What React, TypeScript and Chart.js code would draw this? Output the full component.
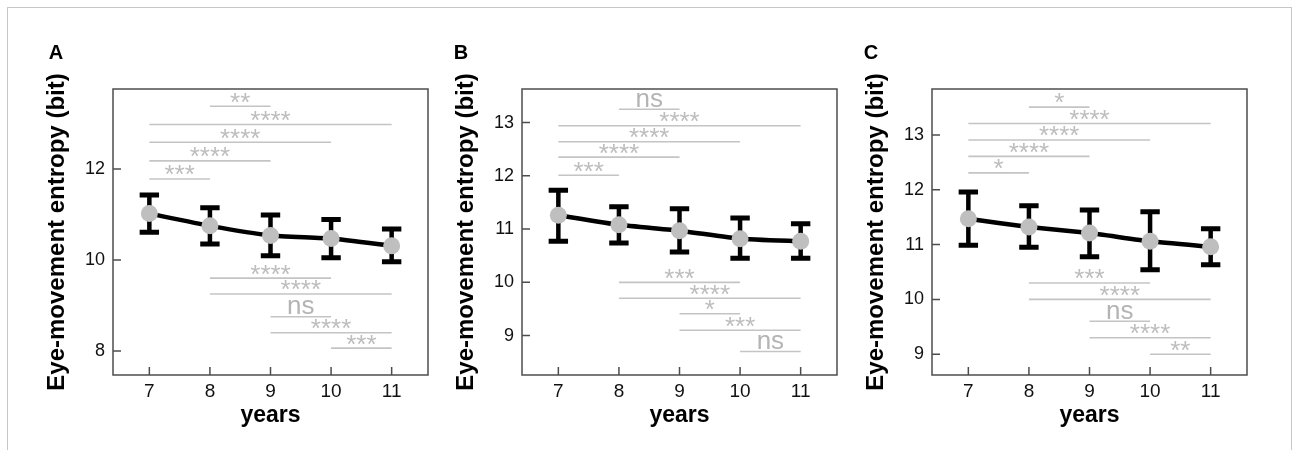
import React, { useEffect, useRef } from "react";
import { Chart, registerables } from "chart.js";

Chart.register(...registerables);

const FONT = "'Liberation Sans', Arial, Helvetica, sans-serif";

// ---------- data ----------
const years = [7, 8, 9, 10, 11];
const xTickValues = [7, 8, 9, 10, 11];

// Panel A
const meanA = [11.02, 10.75, 10.54, 10.47, 10.31];
const upperA = [11.43, 11.15, 10.99, 10.89, 10.68];
const lowerA = [10.61, 10.35, 10.09, 10.05, 9.96];
const yTicksA = [8, 10, 12];
const sigFromA = [8, 7, 7, 7, 7, 8, 8, 9, 9, 10];
const sigToA = [9, 11, 10, 9, 8, 10, 11, 10, 11, 11];
const sigYA = [13.38, 12.98, 12.59, 12.18, 11.78, 9.6, 9.25, 8.75, 8.4, 8.06];
const sigLabelA = ["**", "****", "****", "****", "***", "****", "****", "ns", "****", "***"];

// Panel B
const meanB = [11.26, 11.08, 10.97, 10.82, 10.77];
const upperB = [11.73, 11.42, 11.38, 11.21, 11.1];
const lowerB = [10.77, 10.74, 10.57, 10.45, 10.45];
const yTicksB = [9, 10, 11, 12, 13];
const sigFromB = [8, 7, 7, 7, 7, 8, 8, 9, 9, 10];
const sigToB = [9, 11, 10, 9, 8, 10, 11, 10, 11, 11];
const sigYB = [13.25, 12.94, 12.64, 12.35, 12.01, 10.0, 9.7, 9.41, 9.1, 8.7];
const sigLabelB = ["ns", "****", "****", "****", "***", "***", "****", "*", "***", "ns"];

// Panel C
const meanC = [11.47, 11.32, 11.21, 11.06, 10.96];
const upperC = [11.96, 11.71, 11.63, 11.6, 11.29];
const lowerC = [10.99, 10.95, 10.78, 10.54, 10.63];
const yTicksC = [9, 10, 11, 12, 13];
const sigFromC = [8, 7, 7, 7, 7, 8, 8, 9, 9, 10];
const sigToC = [9, 11, 10, 9, 8, 10, 11, 10, 11, 11];
const sigYC = [13.51, 13.21, 12.91, 12.61, 12.31, 10.3, 10.0, 9.6, 9.3, 9.0];
const sigLabelC = ["*", "****", "****", "****", "*", "***", "****", "ns", "****", "**"];

type Panel = {
  letter: string;
  letterDx: number;
  left: number;
  mean: number[];
  upper: number[];
  lower: number[];
  yTicks: number[];
  yMin: number;
  yMax: number;
  sigFrom: number[];
  sigTo: number[];
  sigY: number[];
  sigLabel: string[];
};

const panels: Panel[] = [
  { letter: "A", letterDx: -57, left: 0, mean: meanA, upper: upperA, lower: lowerA, yTicks: yTicksA, yMin: 7.47, yMax: 13.76, sigFrom: sigFromA, sigTo: sigToA, sigY: sigYA, sigLabel: sigLabelA },
  { letter: "B", letterDx: -61, left: 409, mean: meanB, upper: upperB, lower: lowerB, yTicks: yTicksB, yMin: 8.26, yMax: 13.63, sigFrom: sigFromB, sigTo: sigToB, sigY: sigYB, sigLabel: sigLabelB },
  { letter: "C", letterDx: -61, left: 819, mean: meanC, upper: upperC, lower: lowerC, yTicks: yTicksC, yMin: 8.62, yMax: 13.84, sigFrom: sigFromC, sigTo: sigToC, sigY: sigYC, sigLabel: sigLabelC },
];

const CW = 440;
const CH = 450;

function PanelChart({ p }: { p: Panel }) {
  const ref = useRef<HTMLCanvasElement>(null);

  useEffect(() => {
    if (!ref.current) return;
    const decor = {
      id: "decor",
      beforeDatasetsDraw(chart: any) {
        const { ctx, scales } = chart;
        const x = scales.x;
        const y = scales.y;
        ctx.save();
        // significance brackets
        for (let i = 0; i < p.sigY.length; i++) {
          const x1 = x.getPixelForValue(p.sigFrom[i]);
          const x2 = x.getPixelForValue(p.sigTo[i]);
          const py = y.getPixelForValue(p.sigY[i]);
          ctx.strokeStyle = "#c4c4c4";
          ctx.lineWidth = 1.6;
          ctx.beginPath();
          ctx.moveTo(x1, py);
          ctx.lineTo(x2, py);
          ctx.stroke();
          const lab = p.sigLabel[i];
          ctx.font = `26px ${FONT}`;
          ctx.fillStyle = lab === "ns" ? "#b4b4b4" : "#bdbdbd";
          ctx.textAlign = "center";
          ctx.textBaseline = "alphabetic";
          const m = ctx.measureText(lab);
          const gap = lab === "ns" ? 2.3 : 3.6;
          const base = py - gap - m.actualBoundingBoxDescent;
          ctx.fillText(lab, (x1 + x2) / 2, base);
        }
        // error bars
        ctx.strokeStyle = "#000";
        ctx.lineCap = "butt";
        for (let i = 0; i < years.length; i++) {
          const px = x.getPixelForValue(years[i]);
          const pu = y.getPixelForValue(p.upper[i]);
          const pl = y.getPixelForValue(p.lower[i]);
          ctx.lineWidth = 4.5;
          ctx.beginPath();
          ctx.moveTo(px, pu);
          ctx.lineTo(px, pl);
          ctx.stroke();
          ctx.lineWidth = 5;
          ctx.beginPath();
          ctx.moveTo(px - 9.7, pu);
          ctx.lineTo(px + 9.7, pu);
          ctx.moveTo(px - 9.7, pl);
          ctx.lineTo(px + 9.7, pl);
          ctx.stroke();
        }
        ctx.restore();
      },
      afterDraw(chart: any) {
        const { ctx, chartArea: a, scales } = chart;
        const x = scales.x;
        const y = scales.y;
        ctx.save();
        ctx.strokeStyle = "#4d4d4d";
        ctx.lineWidth = 1.5;
        ctx.strokeRect(a.left, a.top, a.right - a.left, a.bottom - a.top);
        ctx.beginPath();
        for (const v of xTickValues) {
          const px = x.getPixelForValue(v);
          ctx.moveTo(px, a.bottom);
          ctx.lineTo(px, a.bottom - 8);
        }
        for (const v of p.yTicks) {
          const py = y.getPixelForValue(v);
          ctx.moveTo(a.left, py);
          ctx.lineTo(a.left + 8, py);
        }
        ctx.stroke();
        // panel letter
        ctx.font = `bold 20px ${FONT}`;
        ctx.fillStyle = "#000";
        ctx.textAlign = "center";
        ctx.textBaseline = "alphabetic";
        ctx.fillText(p.letter, a.left + p.letterDx, 59);
        ctx.restore();
      },
    };

    const chart = new Chart(ref.current, {
      type: "line",
      data: {
        datasets: [
          {
            data: years.map((yr, i) => ({ x: yr, y: p.mean[i] })),
            borderColor: "#000",
            borderWidth: 4.5,
            pointRadius: 8.5,
            pointBackgroundColor: "#bfbfbf",
            pointBorderWidth: 0,
            pointBorderColor: "#bfbfbf",
            tension: 0.15,
            fill: false,
          },
        ],
      },
      options: {
        responsive: false,
        animation: false,
        events: [],
        layout: { padding: { left: 0, top: 89, right: 12, bottom: 0 } },
        plugins: {
          legend: { display: false },
          tooltip: { enabled: false },
          title: { display: false },
        },
        scales: {
          x: {
            type: "linear",
            min: 6.4,
            max: 11.6,
            grid: { display: false, drawTicks: false },
            border: { display: false },
            ticks: {
              font: { family: FONT, size: 19 },
              color: "#111",
              padding: 5,
              maxRotation: 0,
              autoSkip: false,
            },
            afterBuildTicks: (s: any) => {
              s.ticks = xTickValues.map((v) => ({ value: v }));
            },
            afterFit: (s: any) => {
              s.height = 75;
            },
            title: {
              display: true,
              text: "years",
              font: { family: FONT, size: 23, weight: "bold" },
              color: "#000",
              padding: { top: 0, bottom: 21 },
            },
          },
          y: {
            type: "linear",
            min: p.yMin,
            max: p.yMax,
            grid: { display: false, drawTicks: false },
            border: { display: false },
            ticks: {
              font: { family: FONT, size: 18 },
              color: "#111",
              padding: 8,
              autoSkip: false,
            },
            afterBuildTicks: (s: any) => {
              s.ticks = p.yTicks.map((v) => ({ value: v }));
            },
            afterFit: (s: any) => {
              s.width = 113;
            },
            title: {
              display: true,
              text: "Eye-movement entropy (bit)",
              font: { family: FONT, size: 24, weight: "bold" },
              color: "#000",
              padding: { top: 42.6, bottom: 0 },
            },
          },
        },
      },
      plugins: [decor],
    } as any);

    return () => chart.destroy();
  }, [p]);

  return (
    <canvas
      ref={ref}
      width={CW}
      height={CH}
      style={{ position: "absolute", left: p.left, top: 0, width: CW, height: CH }}
    />
  );
}

export default function App() {
  return (
    <div
      style={{
        position: "absolute",
        left: 0,
        top: 0,
        width: 1293,
        height: 450,
        overflow: "hidden",
        background: "#fff",
      }}
    >
      <div
        style={{
          position: "absolute",
          left: 7,
          top: 7,
          width: 1283,
          height: 460,
          borderTop: "1px solid #c6c6c6",
          borderLeft: "1px solid #c6c6c6",
          borderRight: "1px solid #c6c6c6",
        }}
      />
      {panels.map((p) => (
        <PanelChart key={p.letter} p={p} />
      ))}
    </div>
  );
}
